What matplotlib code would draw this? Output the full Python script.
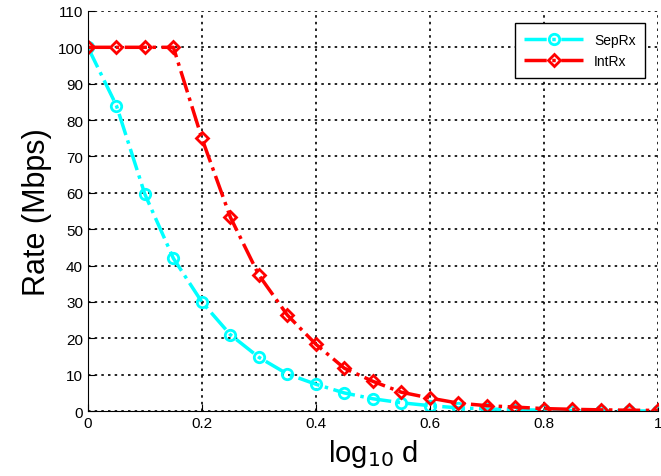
import numpy as np
import matplotlib
matplotlib.use("Agg")
import matplotlib.pyplot as plt

plt.rcParams['font.family'] = ['Liberation Sans', 'DejaVu Sans']

# log10 d
x = np.arange(0, 1.0001, 0.05)
sep_rx = [100, 84, 59.6, 42, 30, 21, 14.8, 10.2, 7.4, 5.0, 3.4, 2.3, 1.5,
          0.9, 0.6, 0.4, 0.25, 0.15, 0.1, 0.05, 0.03]
int_rx = [100, 100, 100, 100, 75, 53.3, 37.4, 26.4, 18.4, 11.8, 8.2, 5.2, 3.6,
          2.2, 1.5, 1.1, 0.7, 0.5, 0.35, 0.25, 0.2]

fig = plt.figure(figsize=(6.61, 4.77), dpi=100)
ax = fig.add_axes([0.133, 0.136, 0.862, 0.839])

ax.plot(x, sep_rx, color='cyan', linestyle='-.', linewidth=2.5, marker='o',
        markersize=7.5, markerfacecolor='none', markeredgewidth=2, label='SepRx')
ax.plot(x, int_rx, color='red', linestyle='-.', linewidth=2.5, marker='D',
        markersize=6.5, markerfacecolor='none', markeredgewidth=2, label='IntRx')

ax.set_xlim(0, 1)
ax.set_ylim(0, 110)
ax.set_xticks([0, 0.2, 0.4, 0.6, 0.8, 1])
ax.set_xticklabels(['0', '0.2', '0.4', '0.6', '0.8', '1'])
ax.set_yticks(range(0, 111, 10))
ax.tick_params(direction='in', labelsize=11, length=5)
ax.spines['top'].set_visible(False)
ax.spines['right'].set_visible(False)
ax.grid(True, color='black', linestyle=(0, (1.5, 2.5)), linewidth=1.2)
ax.set_xlabel('log$_{10}$ d', fontsize=21, labelpad=5)
ax.set_ylabel('Rate (Mbps)', fontsize=22, labelpad=4)
ax.legend(loc='upper right', fontsize=10, fancybox=False, edgecolor='black',
          framealpha=1, borderaxespad=0.9, handlelength=4.2, borderpad=0.7)

plt.savefig('out.png', dpi=100)
